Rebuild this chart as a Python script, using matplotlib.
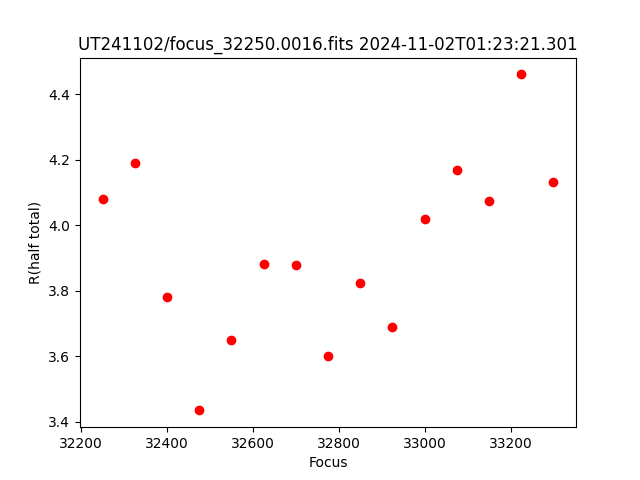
import matplotlib
matplotlib.use('Agg')
import matplotlib.pyplot as plt

focus = [32250, 32325, 32400, 32475, 32550, 32625, 32700, 32775,
         32850, 32925, 33000, 33075, 33150, 33225, 33300]
r_half = [4.079, 4.190, 3.782, 3.434, 3.648, 3.881, 3.877, 3.600,
          3.822, 3.690, 4.019, 4.168, 4.073, 4.461, 4.131]

fig = plt.figure(figsize=(6.4, 4.8), dpi=100)
plt.plot(focus, r_half, 'ro')
plt.xlabel('Focus')
plt.ylabel('R(half total)')
plt.title('UT241102/focus_32250.0016.fits 2024-11-02T01:23:21.301')
plt.savefig('out.png')
